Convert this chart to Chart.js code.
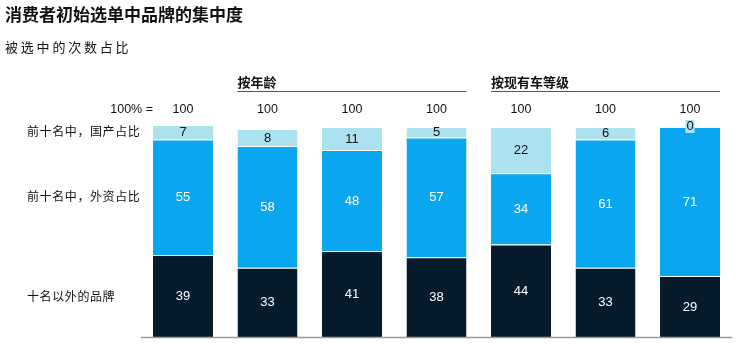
<!DOCTYPE html>
<html>
<head>
<meta charset="utf-8">
<script src="https://cdn.jsdelivr.net/npm/chart.js@4"></script>
<style>
  html, body { margin: 0; padding: 0; background: #fff; }
  #wrap { position: relative; width: 744px; height: 344px; overflow: hidden; font-family: "Noto Sans CJK SC", sans-serif; }
  canvas { position: absolute; left: 0; top: 0; }
  .t { position: absolute; white-space: nowrap; color: #111; line-height: 1; }
  #title { left: 5px; top: 5px; font-size: 17px; font-weight: bold; }
  #sub { left: 5px; top: 40px; font-size: 13px; letter-spacing: 2.8px; }
  .row { left: 27px; font-size: 12px; letter-spacing: 0.6px; }
</style>
</head>
<body>
<div id="wrap">
  <canvas id="c" width="744" height="344"></canvas>
  <div class="t" id="title">消费者初始选单中品牌的集中度</div>
  <div class="t" id="sub">被选中的次数占比</div>
  <div class="t row" id="r1" style="top:125px">前十名中，国产占比</div>
  <div class="t row" id="r2" style="top:190px">前十名中，外资占比</div>
  <div class="t row" id="r3" style="top:290px">十名以外的品牌</div>
</div>
<script>
const categories = ["A1", "A2", "A3", "A4", "C1", "C2", "C3"];
const seriesNames = ["十名以外的品牌", "前十名中，外资占比", "前十名中，国产占比"];
const outsideTop10 = [39, 33, 41, 38, 44, 33, 29];
const top10Foreign = [55, 58, 48, 57, 34, 61, 71];
const top10Domestic = [7, 8, 11, 5, 22, 6, 0];
const totals = ["100", "100", "100", "100", "100", "100", "100"];
const totalsLabel = "100% =";
const groups = [
  { label: "按年龄", from: 1, to: 3 },
  { label: "按现有车等级", from: 4, to: 6 }
];

const colors = ["#061B2C", "#0AA6EF", "#ACE2EF"];
const labelColors = ["#ffffff", "#ffffff", "#111111"];

const overlay = {
  id: "overlay",
  afterDatasetsDraw(chart) {
    const ctx = chart.ctx;
    const xs = chart.scales.x, ys = chart.scales.y;
    const area = chart.chartArea;
    ctx.save();
    ctx.strokeStyle = "#9a9a9a";
    ctx.lineWidth = 1.5;
    ctx.beginPath();
    ctx.moveTo(area.left, ys.getPixelForValue(0) + 0.5);
    ctx.lineTo(area.right, ys.getPixelForValue(0) + 0.5);
    ctx.stroke();

    ctx.font = "13px 'Liberation Sans', Arial, sans-serif";
    ctx.textAlign = "center";
    ctx.textBaseline = "middle";
    chart.data.datasets.forEach((ds, di) => {
      const meta = chart.getDatasetMeta(di);
      meta.data.forEach((bar, i) => {
        const v = ds.data[i];
        const yc = (bar.y + bar.base) / 2;
        if (v === 0) {
          const w = ctx.measureText(String(v)).width + 2;
          ctx.fillStyle = colors[2];
          ctx.fillRect(bar.x - w / 2, bar.y - 7, w, 13);
          ctx.fillStyle = "#111";
          ctx.fillText(String(v), bar.x, bar.y - 0.5);
        } else {
          ctx.fillStyle = labelColors[di];
          ctx.fillText(String(v), bar.x, yc + 0.5);
        }
      });
    });

    const yTot = 110;
    ctx.fillStyle = "#111";
    ctx.font = "12.5px 'Liberation Sans', Arial, sans-serif";
    totals.forEach((t, i) => {
      ctx.fillText(t, xs.getPixelForValue(i), yTot);
    });
    ctx.textAlign = "right";
    ctx.fillText(totalsLabel, 153, yTot);

    const meta0 = chart.getDatasetMeta(0);
    ctx.textAlign = "left";
    ctx.font = "bold 13px 'Noto Sans CJK SC', sans-serif";
    groups.forEach(g => {
      const b1 = meta0.data[g.from], b2 = meta0.data[g.to];
      const x1 = b1.x - b1.width / 2, x2 = b2.x + b2.width / 2;
      ctx.fillStyle = "#111";
      ctx.fillText(g.label, x1, 82);
      ctx.strokeStyle = "#555";
      ctx.lineWidth = 1;
      ctx.beginPath();
      ctx.moveTo(x1, 91.5);
      ctx.lineTo(x2, 91.5);
      ctx.stroke();
    });
    ctx.restore();
  }
};

const seriesData = [outsideTop10, top10Foreign, top10Domestic];
new Chart(document.getElementById("c"), {
  type: "bar",
  data: {
    labels: categories,
    datasets: seriesData.map((d, i) => ({
      label: seriesNames[i],
      data: d,
      backgroundColor: colors[i],
      borderColor: "rgba(255,255,255,0.7)",
      borderWidth: { top: 1, bottom: 0, left: 0, right: 0 },
      borderSkipped: false,
      categoryPercentage: 1,
      barPercentage: 0.71,
      clip: false
    }))
  },
  options: {
    responsive: false,
    animation: false,
    devicePixelRatio: 1,
    layout: { padding: { left: 140.75, right: 11.75, top: 127, bottom: 7 } },
    plugins: { legend: { display: false }, tooltip: { enabled: false } },
    scales: {
      x: { stacked: true, display: false, offset: true },
      y: { stacked: true, display: false, min: 0, max: 100 }
    }
  },
  plugins: [overlay]
});
</script>
</body>
</html>
